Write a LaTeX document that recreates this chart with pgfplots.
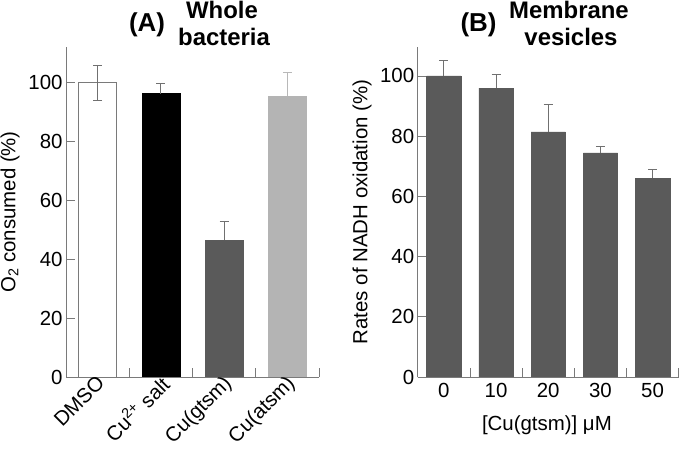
\documentclass[border=0pt]{standalone}
\usepackage{fontspec}
\setmainfont{Liberation Sans}
\usepackage{pgfplots}
\pgfplotsset{compat=1.18}
\definecolor{bargray}{HTML}{5A5A5A}
\definecolor{lightbar}{HTML}{B4B4B4}
\definecolor{axgray}{HTML}{7A7A7A}
\definecolor{errgray}{HTML}{707070}
\definecolor{errlight}{HTML}{B8B8B8}
\pgfplotsset{
  panel/.style={
    scale only axis, axis lines*=left,
    axis line style={axgray, line width=0.8bp},
    ymin=0, tick align=inside,
    major tick length=9bp, minor tick length=9bp,
    ytick={0,20,...,100},
    tick style={axgray, line width=0.8bp},
    major x tick style={draw=none},
    tick label style={font=\fontsize{20.5}{24}\selectfont},
    /pgf/number format/assume math mode=true,
    label style={font=\fontsize{20.5}{24}\selectfont},
  },
  errbar/.style={error bars/.cd, y dir=plus, y explicit,
    error bar style={#1, line width=0.8bp},
    error mark options={rotate=90, #1, mark size=4.5bp, line width=0.8bp}},
}
\begin{document}
\begin{tikzpicture}
\path[use as bounding box] (0,0) rectangle (680bp,451bp);
% Panel A
\begin{axis}[panel, at={(66bp,74bp)}, anchor=south west,
  width=253bp, height=330bp,
  xmin=-0.5, xmax=3.5, ymax=112.1,
  xtick={0,1,2,3},
  xticklabels={DMSO, Cu\textsuperscript{2+} salt, Cu(gtsm), Cu(atsm)},
  minor xtick={0.5,1.5,2.5,3.5},
  xticklabel style={rotate=45, anchor=north east, xshift=4bp, yshift=7bp},
  ylabel={O\textsubscript{2} consumed (\%)},
  ylabel style={at={(axis description cs:-0.221,0.5)}, anchor=center},
]
\addplot[ybar, bar width=38bp, bar shift=0pt, fill=white, draw=axgray, line width=0.8bp,
  error bars/.cd, y dir=both, y explicit,
  error bar style={errgray, line width=0.8bp},
  error mark options={rotate=90, errgray, mark size=4.5bp, line width=0.8bp}]
  coordinates {(0,100) +- (0,6)};
\addplot[ybar, bar width=38bp, bar shift=0pt, fill=black, draw=black, errbar=errgray]
  coordinates {(1,96.3) +- (0,3.5)};
\addplot[ybar, bar width=38bp, bar shift=0pt, fill=bargray, draw=bargray, errbar=errgray]
  coordinates {(2,46.6) +- (0,6.4)};
\addplot[ybar, bar width=38bp, bar shift=0pt, fill=lightbar, draw=lightbar, errbar=errlight]
  coordinates {(3,95.4) +- (0,8.2)};
\end{axis}
% Panel B
\begin{axis}[panel, at={(417.7bp,74bp)}, anchor=south west,
  width=261bp, height=330bp,
  xmin=-0.5, xmax=4.5, ymax=109.6,
  xtick={0,1,2,3,4},
  xticklabels={0,10,20,30,50},
  xticklabel style={yshift=-3bp},
  minor xtick={0.5,1.5,2.5,3.5,4.5},
  xlabel={[Cu(gtsm)] μM},
  xlabel style={at={(axis description cs:0.495,-0.145)}, anchor=center},
  ylabel={Rates of NADH oxidation (\%)},
  ylabel style={at={(axis description cs:-0.213,0.5)}, anchor=center},
]
\addplot[ybar, bar width=34.3bp, bar shift=0pt, fill=bargray, draw=bargray, errbar=errgray]
  coordinates {(0,100) +- (0,5.2) (1,95.9) +- (0,4.7) (2,81.4) +- (0,9.2) (3,74.4) +- (0,2.3) (4,66) +- (0,3)};
\end{axis}
% Titles
\node[font=\bfseries\fontsize{26}{30}\selectfont] at (147bp,426bp) {(A)};
\node[font=\bfseries\fontsize{24}{28}\selectfont, anchor=base] at (222bp,432bp) {Whole};
\node[font=\bfseries\fontsize{24}{28}\selectfont, anchor=base] at (224bp,405bp) {bacteria};
\node[font=\bfseries\fontsize{26}{30}\selectfont] at (478.5bp,426bp) {(B)};
\node[font=\bfseries\fontsize{24}{28}\selectfont, anchor=base] at (569bp,432bp) {Membrane};
\node[font=\bfseries\fontsize{24}{28}\selectfont, anchor=base] at (571bp,405bp) {vesicles};
\end{tikzpicture}
\end{document}
